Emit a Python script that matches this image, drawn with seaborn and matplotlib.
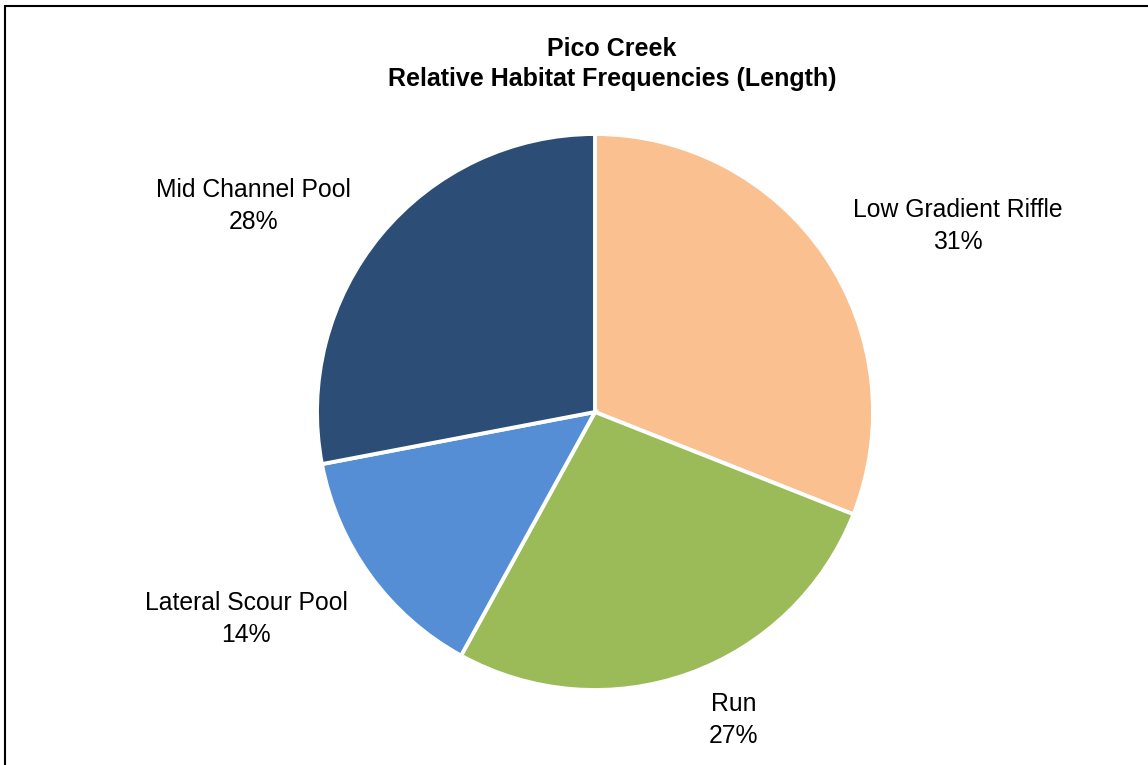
import numpy as np
import matplotlib
matplotlib.use("Agg")
import matplotlib.pyplot as plt
import seaborn as sns
from matplotlib.patches import Rectangle

sns.set_theme(style="white")
plt.rcParams['font.family'] = ['Liberation Sans', 'DejaVu Sans']

categories = ["Low Gradient Riffle", "Run", "Lateral Scour Pool", "Mid Channel Pool"]
values = [31, 27, 14, 28]
colors = ["#FAC090", "#9BBB59", "#558ED5", "#2C4D75"]
title = "Pico Creek\nRelative Habitat Frequencies (Length)"

fig = plt.figure(figsize=(11.48, 7.65), dpi=100)
fig.patch.set_facecolor("white")
ax = fig.add_axes([317/1148, 75/765, 556/1148, 556/765])

wedges, _ = ax.pie(values, colors=colors, startangle=90, counterclock=False,
                   wedgeprops=dict(edgecolor="white", linewidth=2.8))
ax.set_xlim(-1, 1)
ax.set_ylim(-1, 1)
ax.set_aspect("equal")
ax.axis("off")

# label placement: (angle in degrees, radial distance) relative to pie center
label_pos = [(27.1, 1.465), (-65.8, 1.215), (-149.3, 1.46), (148.9, 1.435)]
for cat, v, (ang, r) in zip(categories, values, label_pos):
    a = np.deg2rad(ang)
    ax.text(r*np.cos(a), r*np.sin(a), f"{cat}\n{v}%", ha="center", va="center",
            fontsize=17.8, color="black", linespacing=1.42, clip_on=False)

fig.text(612/1148, 1 - 64/765, title, ha="center", va="center", fontsize=18,
         fontweight="bold", color="black", linespacing=1.3)

fig.patches.append(Rectangle((5/1148, -0.1), 1.2, 1 - 6/765 + 0.1,
                             transform=fig.transFigure, fill=False,
                             edgecolor="black", linewidth=1.5))

fig.savefig("out.png", dpi=100, facecolor="white")
